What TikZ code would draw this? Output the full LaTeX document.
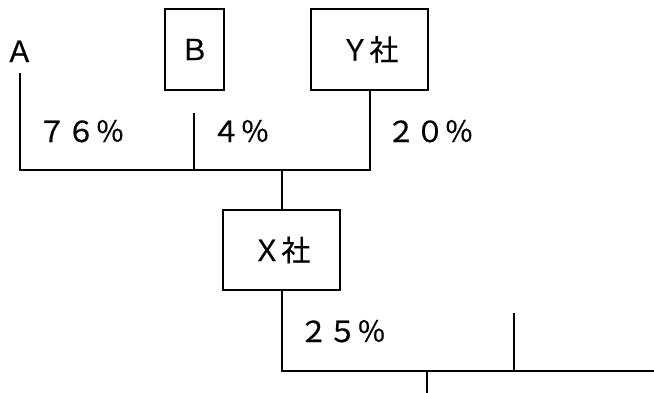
\documentclass[tikz,border=0pt]{standalone}
\usepackage{fontspec}
\setmainfont{Noto Sans CJK JP}[FakeBold=0.5]
\begin{document}
\begin{tikzpicture}[x=1pt,y=-1pt,
  line width=2pt,
  lbl/.style={inner sep=0pt, anchor=base, font=\fontsize{29pt}{34pt}\selectfont},
  company/.style={draw, line width=2pt, inner sep=0pt, font=\fontsize{29pt}{34pt}\selectfont}]
\useasboundingbox (0,0) rectangle (654,392);

% shareholders
\node[lbl] (A) at (19.5,62) {Ａ};
\node[company, minimum width=59pt, minimum height=81pt] (B) at (194.5,49.5) {Ｂ};
\node[company, minimum width=117pt, minimum height=81pt] (Y) at (369.5,49.5) {Ｙ社};

% subsidiary
\node[company, minimum width=117pt, minimum height=80pt] (X) at (281.5,250) {Ｘ社};

% free ends of the lines
\coordinate (aTop) at (20,73);
\coordinate (bTop) at (194,113);
\coordinate (j1) at (20,170);
\coordinate (xEnd) at (656,371);
\coordinate (rTop) at (514,313);
\coordinate (dEnd) at (427,394);

% upper bracket
\draw (aTop) -- (j1) -| (Y.south);
\draw (bTop) -- (bTop |- j1);
\draw (X.north) -- (X.north |- j1);

% lower bracket
\draw (X.south) |- (xEnd);
\draw (rTop) -- (rTop |- xEnd);
\draw (dEnd |- xEnd) -- (dEnd);

% ownership ratios
\node[lbl] (p76) at (81,142) {７６％};
\node[lbl] (p4) at (240.5,142) {４％};
\node[lbl] (p20) at (430,142) {２０％};
\node[lbl] (p25) at (342.5,342) {２５％};
\end{tikzpicture}
\end{document}
